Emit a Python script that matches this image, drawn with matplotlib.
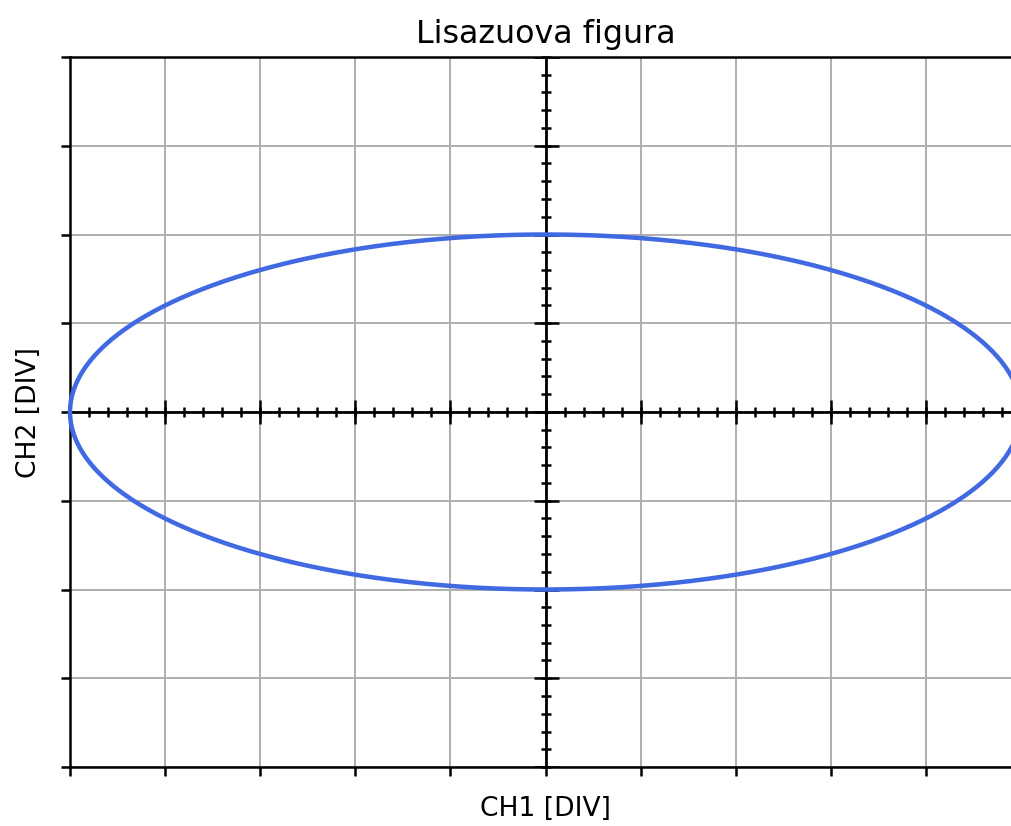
import matplotlib
matplotlib.use('Agg')
import matplotlib.pyplot as plt
import numpy as np

# nastavenie osciloskopu
ch1_amplituda = 5.0   # DIV
ch2_amplituda = 2.0   # DIV
fazovy_posun = 0.0
x_div = [-5, 5]
y_div = [-4, 4]

t = np.linspace(0, 2 * np.pi, 1000)
ch1 = ch1_amplituda * np.cos(t)
ch2 = ch2_amplituda * np.sin(t + fazovy_posun)

dpi = 180
fig = plt.figure(figsize=(1012 / dpi, 827 / dpi), dpi=dpi)
ax = fig.add_axes([70 / 1012, 59 / 827, 951 / 1012, 710 / 827])

ax.set_xlim(x_div)
ax.set_ylim(y_div)
ax.set_xticks(np.arange(x_div[0], x_div[1] + 1, 1))
ax.set_yticks(np.arange(y_div[0], y_div[1] + 1, 1))
ax.set_xticklabels([])
ax.set_yticklabels([])
ax.tick_params(width=1.0, length=3.6)
for s in ax.spines.values():
    s.set_linewidth(1.0)
ax.grid(True, color='#b0b0b0', lw=0.8)

# stredovy kriz ako na obrazovke osciloskopu
ax.axhline(0, color='k', lw=1.1, zorder=3)
ax.axvline(0, color='k', lw=1.1, zorder=3)
minor_x = np.arange(x_div[0], x_div[1] + 0.01, 0.2)
minor_y = np.arange(y_div[0], y_div[1] + 0.01, 0.2)
major_x = np.arange(x_div[0], x_div[1] + 1, 1)
major_y = np.arange(y_div[0], y_div[1] + 1, 1)
ax.plot(minor_x, np.zeros_like(minor_x), ls='none', marker='|', ms=4, mew=1.0, color='k', zorder=3, clip_on=False)
ax.plot(np.zeros_like(minor_y), minor_y, ls='none', marker='_', ms=4, mew=1.0, color='k', zorder=3, clip_on=False)
ax.plot(major_x, np.zeros_like(major_x), ls='none', marker='|', ms=9.5, mew=1.0, color='k', zorder=3)
ax.plot(np.zeros_like(major_y), major_y, ls='none', marker='_', ms=10, mew=1.0, color='k', zorder=3)

ax.plot(ch1, ch2, color='royalblue', lw=1.8, zorder=4, clip_on=False)

ax.set_title('Lisazuova figura', fontsize=12.7)
ax.set_xlabel('CH1 [DIV]', fontsize=10.6)
ax.set_ylabel('CH2 [DIV]', fontsize=10.6)

fig.savefig('out.png', dpi=dpi)
